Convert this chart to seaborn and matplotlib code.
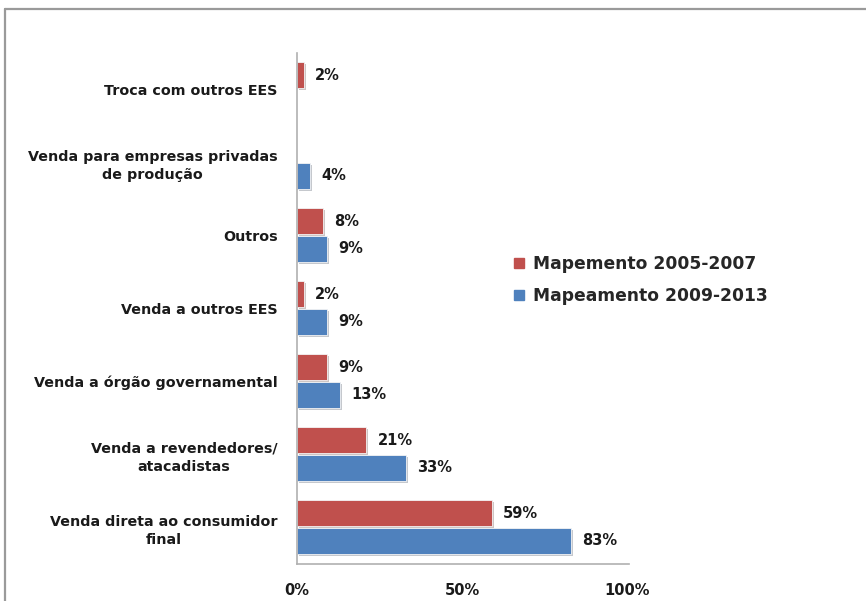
import matplotlib
matplotlib.use("Agg")
import matplotlib.pyplot as plt
import matplotlib.patheffects as pe
from matplotlib.lines import Line2D
import seaborn as sns
import pandas as pd

categories = [
    "Troca com outros EES",
    "Venda para empresas privadas\nde produção",
    "Outros",
    "Venda a outros EES",
    "Venda a órgão governamental",
    "Venda a revendedores/\natacadistas",
    "Venda direta ao consumidor\nfinal",
]
series_names = ["Mapemento 2005-2007", "Mapeamento 2009-2013"]
values_2005 = [2, None, 8, 2, 9, 21, 59]
values_2009 = [None, 4, 9, 9, 13, 33, 83]
x_ticks = [0, 50, 100]
x_tick_labels = ["0%", "50%", "100%"]

colors = ["#C0504D", "#4F81BD"]

rows = []
for cat, v in zip(categories, values_2005):
    if v is not None:
        rows.append({"cat": cat, "serie": series_names[0], "val": v})
for cat, v in zip(categories, values_2009):
    if v is not None:
        rows.append({"cat": cat, "serie": series_names[1], "val": v})
df = pd.DataFrame(rows)

sns.set_theme(style="white")
plt.rcParams["font.family"] = ["DejaVu Sans"]

fig = plt.figure(figsize=(8.66, 6.01), dpi=100)
ax = fig.add_axes([297 / 866, 1 - 563.5 / 601, 330 / 866, 511 / 601])

sns.barplot(data=df, y="cat", x="val", hue="serie", order=categories,
            hue_order=series_names, palette=colors, saturation=1, orient="h",
            width=0.76, gap=0.06, edgecolor="#f4f4f4", linewidth=0.6,
            ax=ax)

for patch in ax.patches:
    patch.set_path_effects([pe.SimplePatchShadow(offset=(1.5, -1.5), alpha=0.25), pe.Normal()])

for cont in ax.containers:
    ax.bar_label(cont, fmt="%d%%", padding=8, fontsize=10.5, fontweight="bold",
                 color="#1a1a1a")

ax.set_xlim(0, 100)
ax.set_xticks(x_ticks)
ax.set_xticklabels(x_tick_labels, fontsize=10.5, fontweight="bold", color="#1a1a1a")
ax.set_xlabel("")
ax.set_ylabel("")
ax.tick_params(axis="x", length=0, pad=14)
ax.tick_params(axis="y", length=0, pad=14)
for lbl in ax.get_yticklabels():
    lbl.set_fontsize(10.3)
    lbl.set_fontweight("bold")
    lbl.set_color("#1a1a1a")
    lbl.set_multialignment("center")
    lbl.set_linespacing(1.45)

for side in ["top", "right"]:
    ax.spines[side].set_visible(False)
for side in ["left", "bottom"]:
    ax.spines[side].set_color("#b0b0b0")
    ax.spines[side].set_linewidth(1.2)
ax.spines["bottom"].set_bounds(0, 100.5)

handles = [Line2D([0], [0], marker="s", linestyle="", markersize=6.5,
                  markerfacecolor=c, markeredgecolor=c) for c in colors]
if ax.get_legend() is not None:
    ax.get_legend().remove()
fig.legend(handles, series_names, loc="center left",
           bbox_to_anchor=(514 / 866, 1 - 280 / 601), frameon=False,
           prop={"weight": "semibold", "size": 12.3},
           handlelength=0.55, handletextpad=0.55, labelspacing=0.85,
           borderaxespad=0, borderpad=0)

# outer frame of the original figure
fig.add_artist(Line2D([5 / 866, 1], [1 - 9 / 601, 1 - 9 / 601],
                      transform=fig.transFigure, color="#9a9a9a", linewidth=1.6))
fig.add_artist(Line2D([5 / 866, 5 / 866], [1 - 9 / 601, 0],
                      transform=fig.transFigure, color="#9a9a9a", linewidth=1.6))

fig.savefig("out.png", dpi=100)
